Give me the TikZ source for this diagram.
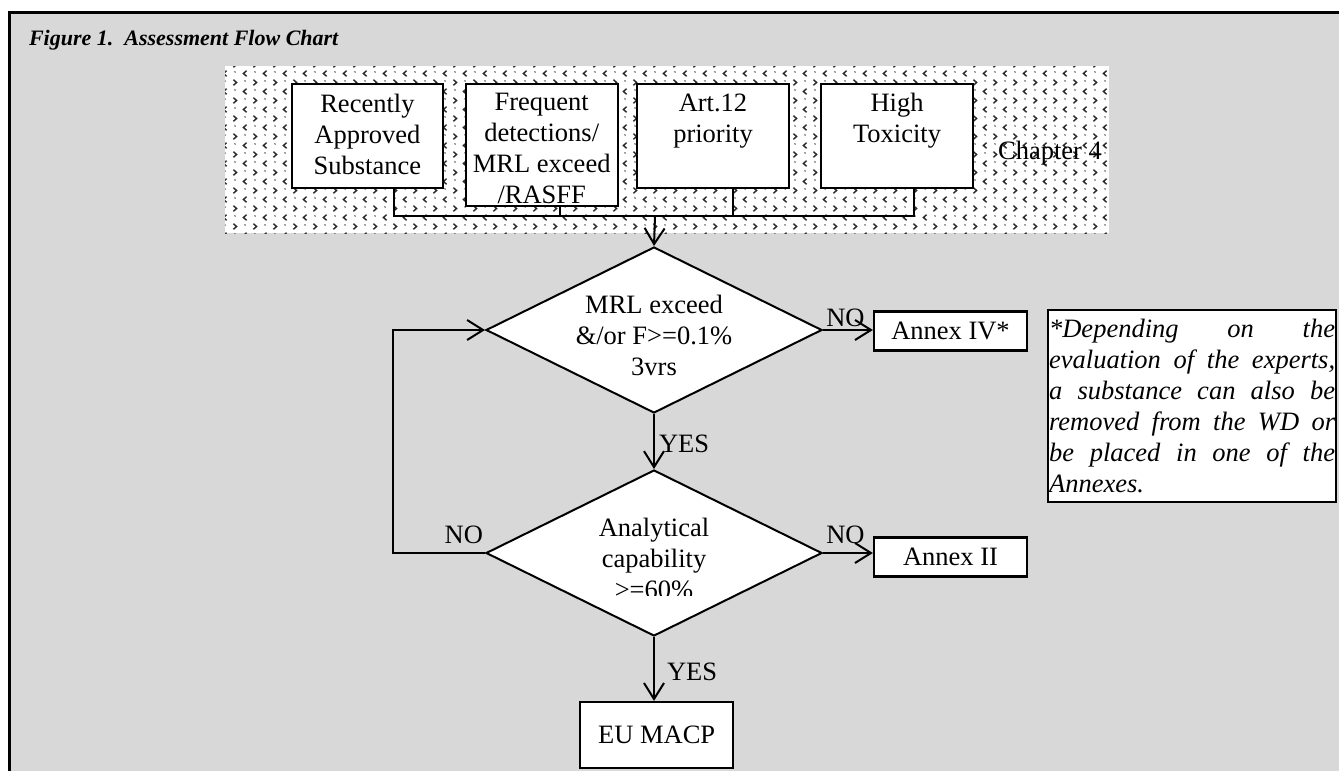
\documentclass[tikz,border=0pt]{standalone}
\usepackage{fontspec}
\setmainfont{Liberation Serif}
\usepackage{xcolor}
\usepackage{tikz}
\usetikzlibrary{shapes.geometric, arrows.meta, positioning, calc, patterns}
\definecolor{panelgrey}{RGB}{216, 216, 216}
\definecolor{divotgrey}{RGB}{40, 40, 40}

\pgfdeclarepatternformonly{divots}{\pgfqpoint{-1pt}{-1pt}}{\pgfqpoint{11pt}{10pt}}{\pgfqpoint{10pt}{9pt}}{%
  \pgfsetlinewidth{0.7pt}
  \pgfpathmoveto{\pgfqpoint{3.3pt}{8.15pt}}
  \pgfpathlineto{\pgfqpoint{1.7pt}{6.75pt}}
  \pgfpathlineto{\pgfqpoint{3.3pt}{5.35pt}}
  \pgfpathmoveto{\pgfqpoint{6.7pt}{3.65pt}}
  \pgfpathlineto{\pgfqpoint{8.3pt}{2.25pt}}
  \pgfpathlineto{\pgfqpoint{6.7pt}{0.85pt}}
  \pgfpathmoveto{\pgfqpoint{7.3pt}{7.4pt}}
  \pgfpathlineto{\pgfqpoint{7.7pt}{7.6pt}}
  \pgfpathmoveto{\pgfqpoint{2.3pt}{2.9pt}}
  \pgfpathlineto{\pgfqpoint{2.7pt}{3.1pt}}
  \pgfusepath{stroke}
}

\newcommand{\topbox}[3]{\parbox[c][#2][t]{#1}{\centering\vspace*{4.8pt}#3\par}}

\tikzset{
  srcbox/.style={draw, line width=1.1pt, fill=white, inner sep=0pt},
  flowbox/.style={draw, line width=1.1pt, fill=white, inner sep=0pt, minimum width=76.5pt, minimum height=19.5pt},
  decision/.style={diamond, draw, line width=1pt, fill=white, aspect=2, inner sep=-2pt,
                   minimum width=168pt, minimum height=83pt, align=center},
  conn/.style={line width=1pt},
  flowarrow/.style={conn, -{Straight Barb[length=8pt, width=10pt]}},
  lbl/.style={inner sep=1pt}
}

\begin{document}
\begin{tikzpicture}[x=0.5pt, y=-0.5pt, font=\fontsize{13.25}{15.5}\selectfont]
    \useasboundingbox (0,0) rectangle (1339,771);
    \clip (0,0) rectangle (1339,771);
    \fill[white] (0,0) rectangle (1339,771);
    \draw[line width=1.5pt, fill=panelgrey] (9,12) rectangle (1400,820);

    \node[anchor=base west, font=\fontsize{11}{13}\selectfont\bfseries\itshape] (title) at (22,46)
        {Figure 1.\ \ Assessment Flow Chart};

    \fill[white] (225,66) rectangle (1109,233);
    \fill[pattern=divots, pattern color=divotgrey] (225,66) rectangle (1109,233);

    \node[srcbox] (recent) at (367.4,135.9) {\topbox{75.6pt}{51.8pt}{Recently\\Approved\\Substance}};
    \node[srcbox] (freq) at (541.7,145) {\topbox{76pt}{61pt}{Frequent\\detections/\\MRL exceed\\/RASFF}};
    \node[srcbox] (art) at (713,136) {\topbox{76pt}{52pt}{Art.12\\priority}};
    \node[srcbox] (tox) at (897,136) {\topbox{76pt}{52pt}{High\\Toxicity}};
    \node (chap) at (1050,153) {Chapter 4};

    \node[decision] (check) at (654,330) {\rule{0pt}{15pt}MRL exceed\\\&/or F>=0.1\%\\3vrs};
    \node[decision] (decide) at (654,553) {\rule{0pt}{15pt}Analytical\\capability\\>=60\%};
    \fill[white] ([xshift=-24.5pt, yshift=-21.5pt]decide.center) rectangle ([xshift=23pt, yshift=-26pt]decide.center);

    \node[flowbox] (annexiv) at (950.5,331) {Annex IV*};
    \node[flowbox] (annexii) at (950.5,557) {Annex II};
    \node[flowbox, minimum height=33pt] (eumacp) at (656.7,735) {EU MACP};

    \node[draw, line width=1.1pt, fill=white, anchor=north west, text width=143pt, inner xsep=0.5pt,
          inner ysep=4.5pt, align=left, font=\fontsize{13.25}{15.5}\selectfont\itshape] (note) at (1047,309) {
        \makebox[143pt]{*Depending\hfill on\hfill the}\\
        \makebox[143pt]{evaluation\hfill of\hfill the\hfill experts,}\\
        \makebox[143pt]{a\hfill substance\hfill can\hfill also\hfill be}\\
        \makebox[143pt]{removed\hfill from\hfill the\hfill WD\hfill or}\\
        \makebox[143pt]{be\hfill placed\hfill in\hfill one\hfill of\hfill the}\\
        Annexes.
    };

    \coordinate (merge) at (655,216);
    \draw[conn] ([xshift=13.3pt]recent.south) |- (merge);
    \draw[conn] ([xshift=9.2pt]freq.south) |- (merge);
    \draw[conn] ([xshift=9.8pt]art.south) |- (merge);
    \draw[conn] ([xshift=8.5pt]tox.south) |- (merge);
    \draw[flowarrow] (merge) -- (check.north);

    \draw[flowarrow] (check.east) -- (check.east -| annexiv.west) node[lbl, above, pos=0.45] {NO};
    \draw[flowarrow] (check.south) -- (decide.north) node[lbl, right, inner sep=2pt, pos=0.55] {YES};
    \draw[flowarrow] (decide.east) -- (decide.east -| annexii.west) node[lbl, above, pos=0.45, yshift=3pt] {NO};
    \draw[flowarrow] (decide.west) -- ++(-92,0) node[lbl, above, pos=0.23, yshift=3pt] {NO} |- (check.west);
    \draw[flowarrow] (decide.south) -- (decide.south |- eumacp.north) node[lbl, right, pos=0.55, xshift=5pt] {YES};
\end{tikzpicture}
\end{document}
